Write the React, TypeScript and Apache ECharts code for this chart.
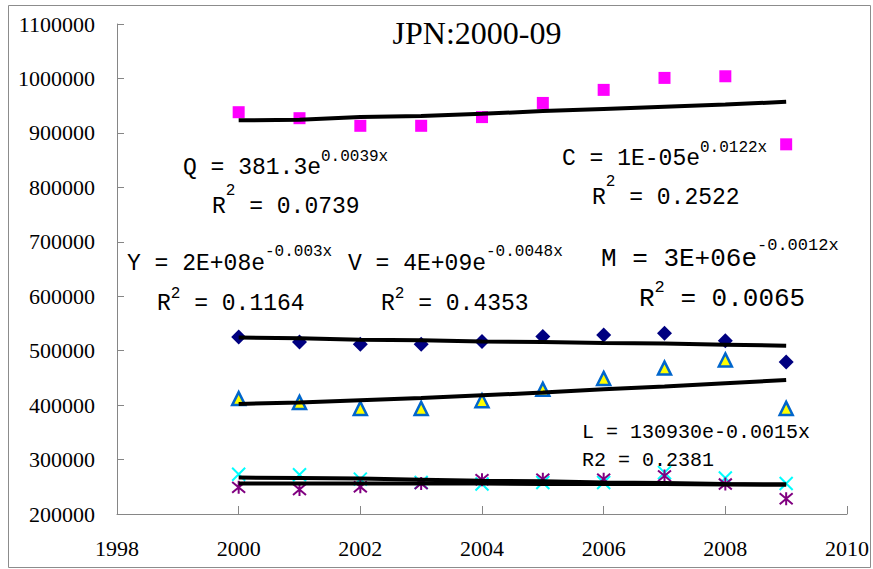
import React, { useEffect, useRef } from "react";
import * as echarts from "echarts";

// Years of the observations
const years = [2000, 2001, 2002, 2003, 2004, 2005, 2006, 2007, 2008, 2009];

// Observed series (magenta squares, navy diamonds, yellow triangles, cyan crosses, purple stars)
const qValues = [938000, 927000, 913000, 913000, 929000, 955000, 979000, 1001000, 1004000, 879000];
const yValues = [525000, 516000, 512000, 512000, 517000, 526000, 529000, 532000, 518000, 479000];
const vValues = [412000, 405000, 394000, 394000, 408000, 429000, 449000, 468000, 483000, 394000];
const lValues = [273000, 272000, 264000, 258000, 255000, 258000, 258000, 276000, 266000, 256000];
const mValues = [249000, 245000, 250000, 256000, 263000, 264000, 264000, 270000, 255000, 228000];

// Fitted exponential trend values at each year
const qTrend = [923000, 924000, 929000, 931000, 935000, 940000, 944000, 948000, 952000, 957000];
const yTrend = [524000, 523000, 520000, 519000, 517000, 516000, 514000, 513000, 511000, 509000];
const vTrend = [402000, 405000, 409000, 413000, 418000, 423000, 429000, 434000, 440000, 446000];
const lTrend = [267000, 266000, 265000, 263000, 261000, 260000, 258000, 257000, 255000, 254000];
const mTrend = [256000, 256000, 256000, 256000, 256000, 255000, 255000, 255000, 254000, 254000];

// Axis ticks
const xTicks = { min: 1998, max: 2010, step: 2 };
const yTicks = { min: 200000, max: 1100000, step: 100000 };

// Chart title and fitted equations
const titleText = "JPN:2000-09";
const eqQ = { main: "Q = 381.3e", sup: "0.0039x", r2: " = 0.0739" };
const eqC = { main: "C = 1E-05e", sup: "0.0122x", r2: " = 0.2522" };
const eqY = { main: "Y = 2E+08e", sup: "-0.003x", r2: " = 0.1164" };
const eqV = { main: "V = 4E+09e", sup: "-0.0048x", r2: " = 0.4353" };
const eqM = { main: "M = 3E+06e", sup: "-0.0012x", r2: " = 0.0065" };
const eqL = { main: "L = 130930e-0.0015x", r2: "R2 = 0.2381" };

const pairs = (vals: number[]) => years.map((yr, i) => [yr, vals[i]]);

const MONO = "'Liberation Mono', 'DejaVu Sans Mono', monospace";
const SERIF = "'Liberation Serif', 'DejaVu Serif', serif";

function txt(text: string, x: number, y: number, size: number, family = MONO) {
  return {
    type: "text",
    x,
    y,
    silent: true,
    style: {
      text,
      fill: "#000",
      fontSize: size,
      fontFamily: family,
      align: "left",
      verticalAlign: "middle",
    },
  };
}

// Equation with superscript exponent, and an R² line below it
function equation(
  eq: { main: string; sup: string; r2: string },
  x: number,
  y: number,
  rx: number,
  ry: number,
  size: number,
  supSize: number,
  supDy: number,
  r2SupDy: number
) {
  const cw = size * 0.6;
  const scw = supSize * 0.6;
  return [
    txt(eq.main, x, y, size),
    txt(eq.sup, x + eq.main.length * cw, y + supDy, supSize),
    txt("R", rx, ry, size),
    txt("2", rx + cw, ry + r2SupDy, supSize),
    txt(eq.r2, rx + cw + scw, ry, size),
  ];
}

function scatter(
  name: string,
  vals: number[],
  symbol: string,
  size: number,
  itemStyle: Record<string, unknown>
) {
  return {
    name,
    type: "scatter",
    data: pairs(vals),
    symbol,
    symbolSize: size,
    itemStyle: { opacity: 1, ...itemStyle },
    z: 2,
  };
}

function trend(name: string, vals: number[]) {
  return {
    name,
    type: "line",
    data: pairs(vals),
    symbol: "none",
    lineStyle: { color: "#000", width: 4 },
    z: 3,
  };
}

export default function App() {
  const ref = useRef<HTMLDivElement>(null);

  useEffect(() => {
    document.body.style.margin = "0";
    const chart = echarts.init(ref.current!, null, { renderer: "svg" });
    const axisGray = "#868686";
    const plain = (v: number) => String(v);
    const option = {
      animation: false,
      backgroundColor: "#fff",
      grid: { left: 117, right: 26, top: 24, bottom: 55 },
      xAxis: {
        type: "value",
        min: xTicks.min,
        max: xTicks.max,
        interval: xTicks.step,
        axisLine: { show: true, lineStyle: { color: axisGray, width: 1 } },
        axisTick: { show: true, inside: true, length: 8, lineStyle: { color: axisGray } },
        splitLine: { show: false },
        axisLabel: { color: "#000", fontSize: 22, fontFamily: SERIF, margin: 23, formatter: plain },
      },
      yAxis: {
        type: "value",
        min: yTicks.min,
        max: yTicks.max,
        interval: yTicks.step,
        axisLine: { show: true, lineStyle: { color: axisGray, width: 1 } },
        axisTick: { show: true, inside: true, length: 7, lineStyle: { color: axisGray } },
        splitLine: { show: false },
        axisLabel: { color: "#000", fontSize: 22, fontFamily: SERIF, margin: 22, formatter: plain },
      },
      series: [
        scatter("Q", qValues, "rect", 12, { color: "#FF00FF" }),
        scatter("Y", yValues, "diamond", 15, { color: "#000080" }),
        scatter("V", vValues, "triangle", 13, {
          color: "#FFFF00",
          borderColor: "#0066CC",
          borderWidth: 2.5,
        }),
        scatter("L", lValues, "path://M0,0L10,10M10,0L0,10", 13, {
          color: "transparent",
          borderColor: "#00FFFF",
          borderWidth: 2,
        }),
        scatter("M", mValues, "path://M0,0L10,10M10,0L0,10M5,-1L5,11", 13, {
          color: "transparent",
          borderColor: "#800080",
          borderWidth: 2,
        }),
        trend("Q trend", qTrend),
        trend("Y trend", yTrend),
        trend("V trend", vTrend),
        trend("L trend", lTrend),
        trend("M trend", mTrend),
      ],
      graphic: [
        {
          type: "rect",
          silent: true,
          shape: { x: 8.5, y: 5.5, width: 862, height: 562 },
          style: { fill: "none", stroke: "#8c8c8c", lineWidth: 1 },
        },
        {
          type: "text",
          x: 477,
          y: 33,
          silent: true,
          style: {
            text: titleText,
            fill: "#000",
            fontSize: 32,
            fontFamily: SERIF,
            align: "center",
            verticalAlign: "middle",
          },
        },
        ...equation(eqQ, 183, 168, 212, 207, 23, 16, -11, -16),
        ...equation(eqC, 562, 159, 592, 198, 23, 16, -11, -16),
        ...equation(eqY, 127, 264, 157, 304, 23, 16, -12, -10),
        ...equation(eqV, 348, 264, 381, 304, 23, 16, -12, -10),
        ...equation(eqM, 601, 259, 639, 299, 26, 17, -14, -12),
        txt(eqL.main, 582, 432, 20),
        txt(eqL.r2, 582, 460, 20),
      ],
    };
    chart.setOption(option as any);
    return () => chart.dispose();
  }, []);

  return <div ref={ref} style={{ width: 873, height: 569 }} />;
}
